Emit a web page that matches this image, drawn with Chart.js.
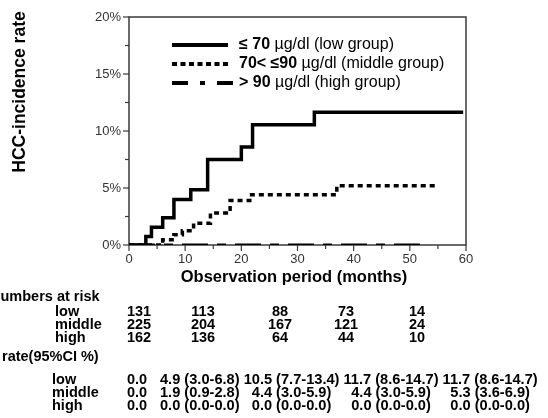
<!DOCTYPE html>
<html>
<head>
<meta charset="utf-8">
<script src="https://cdn.jsdelivr.net/npm/chart.js@4"></script>
<style>
  body { margin: 0; background: #fff; }
  #wrap { position: relative; width: 548px; height: 418px; overflow: hidden; }
  #chart { position: absolute; left: 0; top: 0; }
  .t {
    position: absolute; white-space: nowrap;
    font-family: Arial, "Liberation Sans", sans-serif; font-weight: bold; color: #000;
    line-height: 1;
  }
</style>
</head>
<body>
<div id="wrap">
  <canvas id="chart" width="548" height="418"></canvas>
</div>
<script>
// ---------------- Data ----------------
const lowTimes = [0, 3, 4, 6, 8, 11, 14, 20, 22, 33, 59.5];
const lowRates = [0, 0.75, 1.55, 2.4, 4.0, 4.85, 7.5, 8.6, 10.55, 11.65, 11.65];

const midTimes = [0, 6, 8, 9.5, 11.5, 14.5, 18, 21.5, 37, 55];
const midRates = [0, 0.45, 0.9, 1.25, 1.9, 2.8, 3.9, 4.4, 5.2, 5.2];

const highTimes = [0, 53];
const highRates = [0, 0];

const legendBold = ["≤ 70", "70< ≤90", "> 90"];
const legendRest = [" µg/dl (low group)", " µg/dl (middle group)", " µg/dl (high group)"];

const groups = ["low", "middle", "high"];
const riskLow = [131, 113, 88, 73, 14];
const riskMid = [225, 204, 167, 121, 24];
const riskHigh = [162, 136, 64, 44, 10];

const rateLow = ["0.0", "4.9 (3.0-6.8)", "10.5 (7.7-13.4)", "11.7 (8.6-14.7)", "11.7 (8.6-14.7)"];
const rateMid = ["0.0", "1.9 (0.9-2.8)", "4.4 (3.0-5.9)", "4.4 (3.0-5.9)", "5.3 (3.6-6.9)"];
const rateHigh = ["0.0", "0.0 (0.0-0.0)", "0.0 (0.0-0.0)", "0.0 (0.0-0.0)", "0.0 (0.0-0.0)"];

const toPoints = (xs, ys) => xs.map((x, i) => ({ x, y: ys[i] }));

const FONT = 'Arial, "Liberation Sans", sans-serif';

// ---------------- Table below the chart (HTML text) ----------------
const wrap = document.getElementById("wrap");
const addText = (txt, x, y, align, size) => {
  const d = document.createElement("div");
  d.className = "t";
  d.textContent = txt;
  d.style.fontSize = size + "px";
  d.style.left = x + "px";
  d.style.top = y + "px";
  d.style.transform = align === "center" ? "translate(-50%,-50%)" : "translateY(-50%)";
  wrap.appendChild(d);
};

// numbers at risk
addText("Numbers at risk", -10, 296, "left", 14.5);
const riskCols = [139, 203, 280, 346, 417];
const riskRowsY = [311, 324, 337];
[riskLow, riskMid, riskHigh].forEach((row, r) => {
  addText(groups[r], 55, riskRowsY[r], "left", 14.5);
  row.forEach((v, c) => addText(String(v), riskCols[c], riskRowsY[r], "center", 14.5));
});

// rate rows: the widest row (low) runs as one line with single spaces,
// the other rows are centred under its cells
const mctx = document.createElement("canvas").getContext("2d");
const rowStart = 160, rowEnd = 538;
mctx.font = "bold 100px " + FONT;
let total = mctx.measureText(" ").width * 3;
for (let c = 1; c < rateLow.length; c++) total += mctx.measureText(rateLow[c]).width;
const rateSize = Math.min(16, (100 * (rowEnd - rowStart)) / total);
mctx.font = "bold " + rateSize + "px " + FONT;
const sp = mctx.measureText(" ").width;
const rateCols = [137];
let cx = rowStart;
for (let c = 1; c < rateLow.length; c++) {
  const w = mctx.measureText(rateLow[c]).width;
  rateCols.push(cx + w / 2);
  cx += w + sp;
}

addText("rate(95%CI %)", 2, 356, "left", 14.5);
const rateRowsY = [379, 392, 405];
[rateLow, rateMid, rateHigh].forEach((row, r) => {
  addText(groups[r], 52, rateRowsY[r], "left", 14.5);
  row.forEach((v, c) => addText(v, rateCols[c], rateRowsY[r], "center", c === 0 ? 14.5 : rateSize));
});

// ---------------- Custom drawing: frame, ticks, titles, legend ----------------
const decorPlugin = {
  id: "decor",
  beforeDatasetsDraw(chart) {
    const { ctx, chartArea: a, scales: { x, y } } = chart;
    ctx.save();
    ctx.strokeStyle = "#3a3a3a";
    ctx.lineWidth = 1.5;
    ctx.strokeRect(a.left, a.top, a.right - a.left, a.bottom - a.top);

    // ticks (major / minor)
    ctx.lineWidth = 1.2;
    x.ticks.forEach((t) => {
      const px = x.getPixelForValue(t.value);
      const len = t.value % 10 === 0 ? 6 : 4;
      ctx.beginPath();
      ctx.moveTo(px, a.bottom);
      ctx.lineTo(px, a.bottom + len);
      ctx.stroke();
    });
    y.ticks.forEach((t) => {
      const py = y.getPixelForValue(t.value);
      const len = t.value % 5 === 0 ? 6 : 4;
      ctx.beginPath();
      ctx.moveTo(a.left, py);
      ctx.lineTo(a.left - len, py);
      ctx.stroke();
    });
    ctx.restore();
  },
  afterDraw(chart) {
    const { ctx } = chart;
    ctx.save();
    ctx.fillStyle = "#000";

    // axis titles
    ctx.textAlign = "center";
    ctx.textBaseline = "middle";
    ctx.font = "bold 16.5px " + FONT;
    ctx.fillText("Observation period (months)", 294, 277);
    ctx.save();
    ctx.translate(20, 92);
    ctx.rotate(-Math.PI / 2);
    ctx.font = "bold 17.5px " + FONT;
    ctx.fillText("HCC-incidence rate", 0, 0);
    ctx.restore();

    // legend
    const rowsY = [45, 64, 83];
    const dashes = [[], [5, 3.5], [16, 12, 5, 12]];
    const ends = [228, 228, 233];
    ctx.strokeStyle = "#000";
    ctx.lineWidth = 4;
    rowsY.forEach((ly, i) => {
      ctx.setLineDash(dashes[i]);
      ctx.beginPath();
      ctx.moveTo(172, ly);
      ctx.lineTo(ends[i], ly);
      ctx.stroke();
    });
    ctx.setLineDash([]);
    ctx.textAlign = "left";
    rowsY.forEach((ly, i) => {
      ctx.font = "bold 16px " + FONT;
      ctx.fillText(legendBold[i], 239, ly);
      const w = ctx.measureText(legendBold[i]).width;
      ctx.font = "16px " + FONT;
      ctx.fillText(legendRest[i], 239 + w, ly);
    });
    ctx.restore();
  },
};

// ---------------- Chart ----------------
new Chart(document.getElementById("chart"), {
  type: "line",
  data: {
    datasets: [
      {
        label: "low",
        data: toPoints(lowTimes, lowRates),
        stepped: true,
        borderColor: "#000",
        borderWidth: 3.5,
        pointRadius: 0,
        fill: false,
      },
      {
        label: "middle",
        data: toPoints(midTimes, midRates),
        stepped: true,
        borderColor: "#000",
        borderWidth: 3.5,
        borderDash: [5, 4],
        pointRadius: 0,
        fill: false,
      },
      {
        label: "high",
        data: toPoints(highTimes, highRates),
        stepped: true,
        borderColor: "#000",
        borderWidth: 3,
        borderDash: [26, 9, 9, 9],
        pointRadius: 0,
        fill: false,
      },
    ],
  },
  options: {
    responsive: false,
    animation: false,
    devicePixelRatio: 1,
    layout: { padding: { left: 0, right: 82, top: 17, bottom: 143 } },
    plugins: { legend: { display: false }, tooltip: { enabled: false } },
    scales: {
      x: {
        type: "linear",
        min: 0,
        max: 60,
        afterFit: (s) => { s.height = 30; },
        border: { display: false },
        grid: { drawOnChartArea: false, tickLength: 6, tickColor: "rgba(0,0,0,0)" },
        ticks: {
          stepSize: 5,
          autoSkip: false,
          maxRotation: 0,
          padding: 1,
          color: "#333",
          font: { family: FONT, size: 13 },
          callback: (v) => (v % 10 === 0 ? v : ""),
        },
      },
      y: {
        min: 0,
        max: 20,
        afterFit: (s) => { s.width = 129; },
        border: { display: false },
        grid: { drawOnChartArea: false, tickLength: 6, tickColor: "rgba(0,0,0,0)" },
        ticks: {
          stepSize: 2.5,
          autoSkip: false,
          padding: 2,
          color: "#333",
          font: { family: FONT, size: 13 },
          callback: (v) => (v % 5 === 0 ? v + "%" : ""),
        },
      },
    },
  },
  plugins: [decorPlugin],
});
</script>
</body>
</html>
